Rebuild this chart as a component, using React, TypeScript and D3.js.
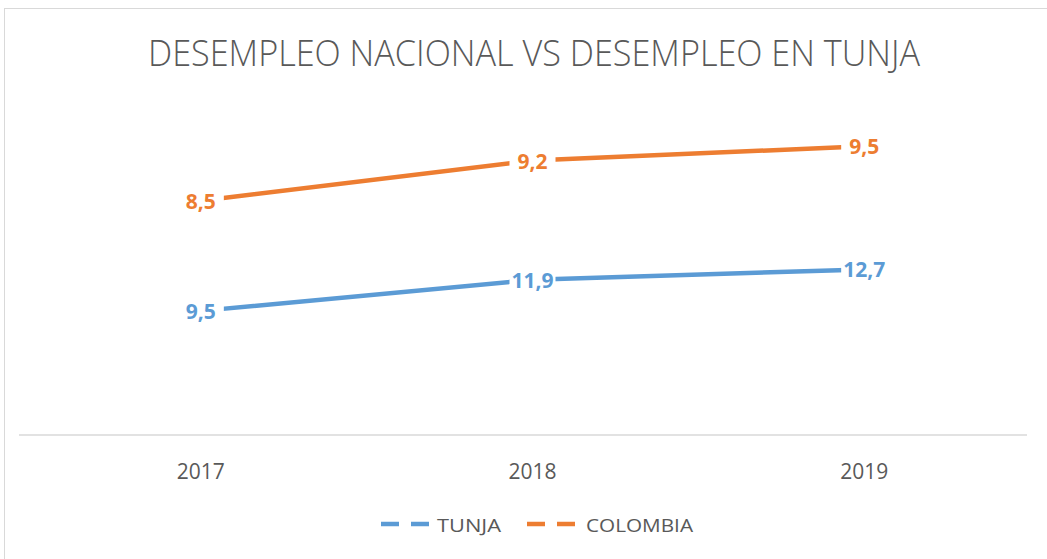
import { useEffect, useRef } from "react";
import * as d3 from "d3";

const years = ["2017", "2018", "2019"];
const tunja = [9.5, 11.9, 12.7];
const colombia = [8.5, 9.2, 9.5];
const seriesNames = ["TUNJA", "COLOMBIA"];
const seriesColors = ["#5b9bd5", "#ed7d31"];

const W = 1047;
const H = 559;

const fmt = (v: number) => String(v).replace(".", ",");

export default function App() {
  const svgRef = useRef<SVGSVGElement>(null);

  useEffect(() => {
    if (!svgRef.current) return;
    const svg = d3.select(svgRef.current);
    svg.selectAll("*").remove();

    // chart frame
    svg
      .append("rect")
      .attr("x", 4.5)
      .attr("y", 8.5)
      .attr("width", W + 10)
      .attr("height", H + 10)
      .attr("fill", "#fff")
      .attr("stroke", "#d9d9d9")
      .attr("stroke-width", 1);

    svg
      .append("text")
      .attr("x", 534)
      .attr("y", 66)
      .attr("text-anchor", "middle")
      .attr("textLength", 772)
      .attr("lengthAdjust", "spacingAndGlyphs")
      .style("font-family", "'Open Sans', sans-serif")
      .style("font-weight", 300)
      .style("font-size", "36px")
      .style("fill", "#595959")
      .text("DESEMPLEO NACIONAL VS DESEMPLEO EN TUNJA");

    const x = d3.scaleBand<string>().domain(years).range([35, 1030]);
    const y = d3.scaleLinear().domain([0, 25]).range([434, 110]);

    // stacked line chart, like the Excel source
    const rows = years.map((yr, i) => ({ year: yr, TUNJA: tunja[i], COLOMBIA: colombia[i] }));
    const stacked = d3.stack<any>().keys(seriesNames)(rows);

    svg
      .append("line")
      .attr("x1", 19)
      .attr("x2", 1027)
      .attr("y1", y(0) + 1)
      .attr("y2", y(0) + 1)
      .attr("stroke", "#d9d9d9")
      .attr("stroke-width", 1.5);

    svg
      .selectAll(".xlab")
      .data(years)
      .join("text")
      .attr("x", (d) => x(d)! + x.bandwidth() / 2)
      .attr("y", 479)
      .attr("text-anchor", "middle")
      .style("font-family", "'Open Sans', sans-serif")
      .style("font-size", "21px")
      .style("fill", "#595959")
      .text((d) => d);

    const line = d3
      .line<any>()
      .x((d) => x(d.data.year)! + x.bandwidth() / 2)
      .y((d) => y(d[1]));

    stacked.forEach((s, si) => {
      svg
        .append("path")
        .datum(s)
        .attr("d", line)
        .attr("fill", "none")
        .attr("stroke", seriesColors[si])
        .attr("stroke-width", 4.5)
        .attr("stroke-linecap", "round");
    });

    const vals = [tunja, colombia];
    stacked.forEach((s, si) => {
      const g = svg
        .selectAll(".lab" + si)
        .data(s)
        .join("g")
        .attr(
          "transform",
          (d: any) => `translate(${x(d.data.year)! + x.bandwidth() / 2},${y(d[1])})`
        );
      g.append("rect")
        .attr("x", -23)
        .attr("y", -14)
        .attr("width", 46)
        .attr("height", 28)
        .attr("fill", "#fff");
      g.append("text")
        .attr("y", 8)
        .attr("text-anchor", "middle")
        .style("font-family", "'Open Sans', sans-serif")
        .style("font-weight", 700)
        .style("font-size", "21px")
        .style("fill", seriesColors[si])
        .text((_d, i) => fmt(vals[si][i]));
    });

    // legend
    const legendItems = [
      { x: 381, tx: 437, len: 64 },
      { x: 527, tx: 586, len: 107 },
    ];
    legendItems.forEach((it, i) => {
      svg
        .append("line")
        .attr("x1", it.x)
        .attr("x2", it.x + 52)
        .attr("y1", 524)
        .attr("y2", 524)
        .attr("stroke", seriesColors[i])
        .attr("stroke-width", 4.5)
        .attr("stroke-dasharray", "18,12");
      svg
        .append("text")
        .attr("x", it.tx)
        .attr("y", 532)
        .attr("textLength", it.len)
        .attr("lengthAdjust", "spacingAndGlyphs")
        .style("font-family", "'Open Sans', sans-serif")
        .style("font-size", "19px")
        .style("fill", "#595959")
        .text(seriesNames[i]);
    });
  }, []);

  return (
    <svg
      ref={svgRef}
      width={W}
      height={H}
      style={{ position: "absolute", left: 0, top: 0, background: "#fff" }}
    />
  );
}
